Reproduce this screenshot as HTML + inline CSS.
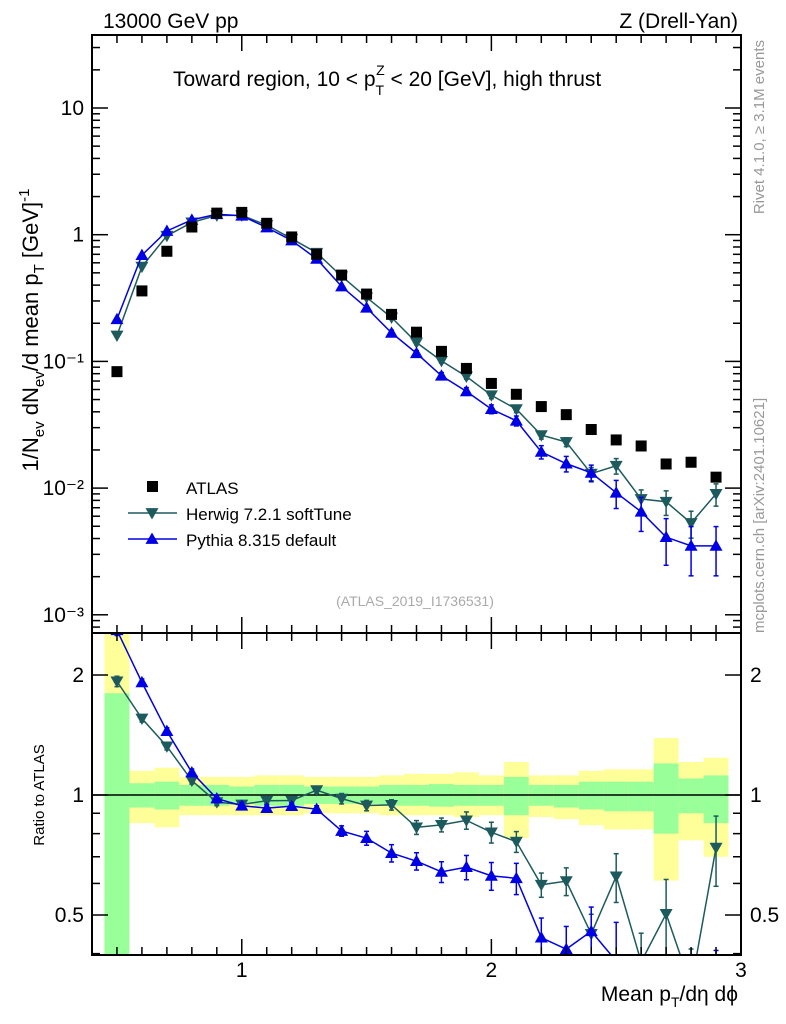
<!DOCTYPE html>
<html><head><meta charset="utf-8">
<style>
html,body{margin:0;padding:0;background:#fff;overflow:hidden;width:786px;height:1024px;}
svg{display:block;font-family:"Liberation Sans",sans-serif;}
</style></head>
<body>
<svg id="plot" width="786" height="1024" viewBox="0 0 786 1024" xmlns="http://www.w3.org/2000/svg">
<text x="103" y="28" font-size="21">13000 GeV pp</text>
<text x="738" y="28" font-size="21" text-anchor="end">Z (Drell-Yan)</text>
<text x="173" y="86" font-size="21">Toward region, 10 &lt; p<tspan font-size="14" dy="9">T</tspan><tspan font-size="14" dx="-8" dy="-20">Z</tspan><tspan dy="11"> &lt; 20 [GeV], high thrust</tspan></text>
<text transform="translate(38,330) rotate(-90)" font-size="22" text-anchor="middle">1/N<tspan font-size="15" dy="6">ev</tspan><tspan dy="-6"> dN</tspan><tspan font-size="15" dy="6">ev</tspan><tspan dy="-6">/d mean p</tspan><tspan font-size="15" dy="6">T</tspan><tspan dy="-6"> [GeV]</tspan><tspan font-size="15" dy="-9">-1</tspan></text>
<text transform="translate(44,795) rotate(-90)" font-size="15" text-anchor="middle">Ratio to ATLAS</text>
<text x="738" y="1001" font-size="21" text-anchor="end">Mean p<tspan font-size="14" dy="6">T</tspan><tspan dy="-6">/dη dϕ</tspan></text>
<text transform="translate(764,40) rotate(-90)" font-size="15" fill="#999" text-anchor="end">Rivet 4.1.0, ≥ 3.1M events</text>
<text transform="translate(764,633) rotate(-90)" font-size="15" fill="#999">mcplots.cern.ch [arXiv:2401.10621]</text>
<text x="415" y="606" font-size="14" fill="#aaa" text-anchor="middle">(ATLAS_2019_I1736531)</text>
<g id="g"></g>
</svg>
<script>
const xCenters=[0.5,0.6,0.7,0.8,0.9,1.0,1.1,1.2,1.3,1.4,1.5,1.6,1.7,1.8,1.9,2.0,2.1,2.2,2.3,2.4,2.5,2.6,2.7,2.8,2.9];
const atlasVals=[0.083,0.36,0.74,1.15,1.48,1.5,1.23,0.96,0.70,0.48,0.34,0.235,0.17,0.12,0.088,0.067,0.055,0.044,0.038,0.029,0.024,0.0215,0.0155,0.016,0.0122];
const herwigVals=[0.16,0.56,0.98,1.25,1.42,1.42,1.19,0.93,0.72,0.47,0.32,0.222,0.141,0.101,0.076,0.054,0.042,0.0262,0.0231,0.013,0.015,0.0082,0.0078,0.0053,0.009];
const herwigErr=[0.03,0.02,0.02,0.02,0.02,0.02,0.02,0.02,0.02,0.03,0.03,0.03,0.04,0.04,0.05,0.06,0.06,0.07,0.08,0.12,0.14,0.18,0.22,0.24,0.2];
const pythiaVals=[0.215,0.69,1.07,1.31,1.45,1.41,1.14,0.9,0.645,0.39,0.265,0.168,0.116,0.077,0.058,0.042,0.034,0.0193,0.0156,0.0132,0.0092,0.0065,0.0041,0.0035,0.0035];
const pythiaErr=[0.03,0.02,0.02,0.02,0.02,0.02,0.02,0.02,0.02,0.03,0.04,0.05,0.05,0.06,0.07,0.08,0.09,0.12,0.14,0.15,0.25,0.3,0.4,0.42,0.42];
const yelUp=[1.6,0.15,0.17,0.11,0.11,0.11,0.12,0.12,0.11,0.11,0.11,0.12,0.13,0.13,0.14,0.12,0.21,0.12,0.12,0.15,0.16,0.16,0.39,0.21,0.24];
const yelDn=[0.65,0.15,0.17,0.11,0.11,0.11,0.11,0.11,0.10,0.10,0.10,0.11,0.11,0.11,0.12,0.11,0.22,0.12,0.13,0.16,0.18,0.18,0.39,0.23,0.30];
const grnUp=[0.8,0.07,0.08,0.06,0.06,0.05,0.06,0.06,0.05,0.05,0.05,0.06,0.06,0.065,0.06,0.06,0.11,0.06,0.06,0.08,0.08,0.08,0.2,0.1,0.12];
const grnDn=[0.67,0.07,0.08,0.06,0.06,0.05,0.06,0.06,0.05,0.05,0.05,0.06,0.06,0.065,0.06,0.06,0.11,0.06,0.07,0.08,0.09,0.09,0.2,0.1,0.15];
const xTicks=[1,2,3];
const mainTicks=[0.001,0.01,0.1,1,10];
const mainTickLabels=["10⁻³","10⁻²","10⁻¹","1","10"];
const ratioTicks=[0.5,1,2];
const ratioTickLabels=["0.5","1","2"];

const L=92,R=741,T=35,MB=633,RB=955;
const NS='http://www.w3.org/2000/svg';
const g=document.getElementById('g');
function X(v){return L+(v-0.4)*(R-L)/2.6;}
function Ym(v){return 108-(Math.log10(v)-1)*126.7;}
function Yr(v){return 795-Math.log2(v)*120;}
function el(tag,attrs,parent){const e=document.createElementNS(NS,tag);for(const k in attrs)e.setAttribute(k,attrs[k]);(parent||g).appendChild(e);return e;}
const defs=el('defs',{});
const c1=el('clipPath',{id:'cm'},defs);el('rect',{x:L,y:T,width:R-L,height:MB-T},c1);
const c2=el('clipPath',{id:'cr'},defs);el('rect',{x:L,y:MB,width:R-L,height:RB-MB},c2);
const gm=el('g',{'clip-path':'url(#cm)'});


const gr=el('g',{'clip-path':'url(#cr)'});


xCenters.forEach((x,i)=>{
  const x0=X(x-0.05),x1=X(x+0.05);
  const y=el('rect',{x:x0,y:Yr(1+yelUp[i]),width:x1-x0,height:Yr(Math.max(1-yelDn[i],0.3))-Yr(1+yelUp[i]),fill:'#ffff99'},gr);
  
  
  const gg=el('rect',{x:x0,y:Yr(1+grnUp[i]),width:x1-x0,height:Yr(Math.max(1-grnDn[i],0.3))-Yr(1+grnUp[i]),fill:'#99ff99'},gr);
  
  
});
el('line',{x1:L,x2:R,y1:Yr(1),y2:Yr(1),stroke:'#000','stroke-width':1.5},gr);
function tri(cx,cy,up,col,parent,name){
  const s=6.5;
  const pts=up?`${cx},${cy-s} ${cx-s},${cy+s*0.75} ${cx+s},${cy+s*0.75}`:`${cx},${cy+s} ${cx-s},${cy-s*0.75} ${cx+s},${cy-s*0.75}`;
  const p=el('polygon',{points:pts,fill:col},parent);
  
  
}
function series(vals,err,col,up,name){
  let d='',dr='';
  xCenters.forEach((x,i)=>{d+=(i?'L':'M')+X(x)+','+Ym(vals[i]);dr+=(i?'L':'M')+X(x)+','+Yr(vals[i]/atlasVals[i]);});
  el('path',{d:d,fill:'none',stroke:col,'stroke-width':1.5},gm);
  el('path',{d:dr,fill:'none',stroke:col,'stroke-width':1.5},gr);
  xCenters.forEach((x,i)=>{
    const v=vals[i],e=err[i],r=v/atlasVals[i];
    const cx=X(x);
    [[Ym(v*(1+e)),Ym(v*(1-e)),gm],[Yr(r*(1+e)),Yr(r*(1-e)),gr]].forEach(([a,b,p])=>{
      if(b-a>4){el('line',{x1:cx,x2:cx,y1:a,y2:b,stroke:col,'stroke-width':1.5},p);
      el('line',{x1:cx-2.5,x2:cx+2.5,y1:a,y2:a,stroke:col,'stroke-width':1.5},p);
      el('line',{x1:cx-2.5,x2:cx+2.5,y1:b,y2:b,stroke:col,'stroke-width':1.5},p);}
    });
    tri(cx,Ym(v),up,col,gm,name+'-point');
    tri(cx,Yr(r),up,col,gr,name+'-ratio-point');
  });
}
series(herwigVals,herwigErr,'#1d5a5e',false,'herwig');
series(pythiaVals,pythiaErr,'#0000e6',true,'pythia');
xCenters.forEach((x,i)=>{
  const r=el('rect',{x:X(x)-5.5,y:Ym(atlasVals[i])-5.5,width:11,height:11,fill:'#000'},gm);
  
  
});
[[T,MB],[MB,RB]].forEach(([a,b])=>el('rect',{x:L,y:a,width:R-L,height:b-a,fill:'none',stroke:'#000','stroke-width':2}));
for(let k=5;k<=29;k++){
  const v=k/10,x=X(v),maj=(k%10===0),len=maj?16:8;
  [[T,1],[MB,-1],[MB,1],[RB,-1]].forEach(([y,s])=>el('line',{x1:x,x2:x,y1:y,y2:y+s*len,stroke:'#000','stroke-width':1.5}));
}
xTicks.forEach(v=>{const t=el('text',{x:X(v),y:977,'font-size':21,'text-anchor':'middle'});t.textContent=v;
});
for(let e=-4;e<=1;e++)for(let m=1;m<10;m++){
  const v=m*Math.pow(10,e),y=Ym(v);if(y<T||y>MB)continue;
  const len=m===1?16:8;
  el('line',{x1:L,x2:L+len,y1:y,y2:y,stroke:'#000','stroke-width':1.5});
  el('line',{x1:R,x2:R-len,y1:y,y2:y,stroke:'#000','stroke-width':1.5});
}
mainTicks.forEach((v,i)=>{const t=el('text',{x:84,y:Ym(v)+7,'font-size':21,'text-anchor':'end'});t.textContent=mainTickLabels[i];
});
[0.4,0.5,0.6,0.7,0.8,0.9,1,2].forEach(v=>{const y=Yr(v);const len=(v===0.5||v===1||v===2)?16:8;
  el('line',{x1:L,x2:L+len,y1:y,y2:y,stroke:'#000','stroke-width':1.5});
  el('line',{x1:R,x2:R-len,y1:y,y2:y,stroke:'#000','stroke-width':1.5});});
ratioTicks.forEach((v,i)=>{
  const t=el('text',{x:84,y:Yr(v)+7,'font-size':21,'text-anchor':'end'});t.textContent=ratioTickLabels[i];
  
  const t2=el('text',{x:750,y:Yr(v)+7,'font-size':21});t2.textContent=ratioTickLabels[i];
  
});
const lg=el('g',{});


el('rect',{x:147,y:481,width:11,height:11,fill:'#000'},lg);
const l1=el('text',{x:186,y:494,'font-size':17},lg);l1.textContent='ATLAS';
el('line',{x1:128,x2:177,y1:513,y2:513,stroke:'#1d5a5e','stroke-width':1.5},lg);
tri(152,513,false,'#1d5a5e',lg,'legend-herwig-marker');
const l2=el('text',{x:186,y:520,'font-size':17},lg);l2.textContent='Herwig 7.2.1 softTune';
el('line',{x1:128,x2:177,y1:539,y2:539,stroke:'#0000e6','stroke-width':1.5},lg);
tri(152,539,true,'#0000e6',lg,'legend-pythia-marker');
const l3=el('text',{x:186,y:546,'font-size':17},lg);l3.textContent='Pythia 8.315 default';
</script>
</body></html>
